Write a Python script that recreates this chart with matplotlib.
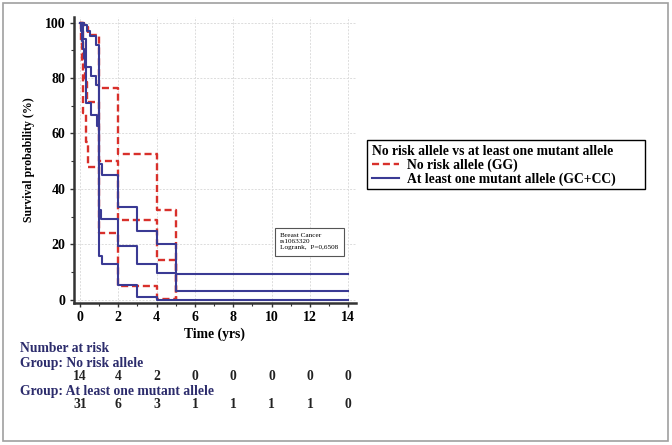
"""
Kaplan-Meier survival curves (with confidence bands) for rs1063320
genotype groups, plus the number-at-risk table underneath.
"""

import matplotlib
matplotlib.use("Agg")
import matplotlib.pyplot as plt
import matplotlib.transforms as mtransforms
from matplotlib.patches import Rectangle

# --- Group 1: No risk allele (GG) -- KM estimate and 95% CI bounds ---
no_risk_t = [0, 0.05, 0.1, 0.25, 0.35, 1.0, 2.0, 4.0, 5.0]
no_risk_s = [100, 92.9, 85.7, 78.6, 71.4, 50.0, 28.6, 14.3, 0]
no_risk_up_t = [0, 0.2, 0.4, 1.0, 2.0, 4.0, 5.0]
no_risk_up_s = [100, 98.5, 95.5, 76.5, 52.5, 32.5, 0]
no_risk_lo_t = [0, 0.15, 0.3, 0.4, 1.0, 2.0, 4.0, 5.0]
no_risk_lo_s = [100, 67.5, 57.0, 48.0, 24.0, 5.0, 0.3, 0.3]

# --- Group 2: At least one mutant allele (GC+CC) ---
mutant_t = [0, 0.05, 0.1, 0.15, 0.2, 0.25, 0.6, 0.85, 1.0, 1.1, 2.0, 3.0, 4.0, 5.0, 14.0]
mutant_s = [100, 96.8, 93.5, 90.3, 87.1, 83.9, 80.6, 77.4, 32.3, 29.0, 19.4, 12.9, 9.7, 3.2, 3.2]
mutant_up_t = [0, 0.2, 0.35, 0.5, 0.85, 1.0, 1.15, 2.0, 3.0, 4.0, 5.0, 14.0]
mutant_up_s = [100, 99, 97, 95, 92, 49, 45, 33.5, 24.7, 20.0, 9.4, 9.4]
mutant_lo_t = [0, 0.15, 0.3, 0.6, 0.9, 1.0, 1.15, 2.0, 3.0, 4.0, 14.0]
mutant_lo_s = [100, 94, 71, 66.6, 62.6, 15.7, 13.0, 5.2, 1.0, 0, 0]

# --- Number at risk ---
risk_times = [0, 2, 4, 6, 8, 10, 12, 14]
risk_no_risk = [14, 4, 2, 0, 0, 0, 0, 0]
risk_mutant = [31, 6, 3, 1, 1, 1, 1, 0]

RED = "#d8302b"
NAVY = "#3a3a94"
TEXT_NAVY = "#2c2c6c"
SERIF = ["Liberation Serif", "DejaVu Serif"]

W, H = 672, 445


def fx(px):
    return px / W


def fy(py):
    return 1 - py / H


fig = plt.figure(figsize=(W / 100, H / 100), dpi=100)
ax = fig.add_axes([fx(74), fy(303), fx(356) - fx(74), fy(17) - fy(303)])

# confidence bands and KM estimates
for t, s in [(no_risk_up_t, no_risk_up_s), (no_risk_t, no_risk_s), (no_risk_lo_t, no_risk_lo_s)]:
    ax.step(t, s, where="post", color=RED, lw=1.7, linestyle=(0, (3, 1.6)), zorder=3)
for t, s in [(mutant_up_t, mutant_up_s), (mutant_t, mutant_s), (mutant_lo_t, mutant_lo_s)]:
    ax.step(t, s, where="post", color=NAVY, lw=1.5, zorder=4)

ax.set_xlim(-0.31, 14.4)
ax.set_ylim(-1.2, 102)
ax.set_xticks(range(0, 15, 2))
ax.set_xticks(range(1, 15, 2), minor=True)
ax.set_yticks(range(0, 101, 20))
ax.set_yticks(range(10, 100, 20), minor=True)
ax.grid(True, which="major", color="#dcdcdc", lw=0.7, linestyle=(0, (2, 1.5)))

for side in ["top", "right"]:
    ax.spines[side].set_visible(False)
for side in ["left", "bottom"]:
    ax.spines[side].set_linewidth(1.8)
    ax.spines[side].set_color("#333333")
ax.tick_params(which="major", length=3, width=1, color="#333333", pad=3)
ax.tick_params(which="minor", length=2, width=0.8, color="#333333")
for lab in ax.get_xticklabels() + ax.get_yticklabels():
    lab.set_family(SERIF)
    lab.set_fontweight("bold")
    lab.set_fontsize(10)

ax.set_xlabel("Time (yrs)", family=SERIF, fontweight="bold", fontsize=9.8, labelpad=2)
ax.set_ylabel("Survival probability (%)", family=SERIF, fontweight="bold", fontsize=8.5, labelpad=7)

# small annotation box with the logrank result
ax.text(10.45, 20.9, "Breast Cancer\nrs1063320\nLogrank,  P=0,6508", family=SERIF,
        fontsize=5.2, va="center", ha="left", linespacing=1.25, zorder=6,
        bbox=dict(boxstyle="square,pad=0.75", facecolor="white", edgecolor="#555555", lw=0.8))

# legend (frame drawn separately: the original box is wider than its text)
h1, = ax.plot([], [], color=RED, lw=1.7, linestyle=(0, (3, 1.6)))
h2, = ax.plot([], [], color=NAVY, lw=1.5)
leg = fig.legend([h1, h2], ["No risk allele (GG)", "At least one mutant allele (GC+CC)"],
                 title="No risk allele vs at least one mutant allele",
                 loc="upper left", bbox_to_anchor=(fx(367), fy(140)),
                 prop=dict(family=SERIF, weight="bold", size=9.8),
                 title_fontproperties=dict(family=SERIF, weight="bold", size=9.8),
                 alignment="left", frameon=False,
                 handlelength=2.0, handletextpad=0.6, borderpad=0.35,
                 labelspacing=0.05, borderaxespad=0)
fig.patches.append(Rectangle((fx(367), fy(189)), fx(645) - fx(367), fy(140) - fy(189),
                             transform=fig.transFigure, fill=False, edgecolor="black", lw=1.0))

# number-at-risk table
blend = mtransforms.blended_transform_factory(ax.transData, fig.transFigure)
label_kw = dict(family=SERIF, fontweight="bold", fontsize=9.8, color=TEXT_NAVY, va="center", ha="left")
fig.text(fx(20), fy(348), "Number at risk", **label_kw)
fig.text(fx(20), fy(363), "Group: No risk allele", **label_kw)
fig.text(fx(20), fy(391), "Group: At least one mutant allele", **label_kw)
num_kw = dict(family=SERIF, fontweight="bold", fontsize=9.8, color="#222222", va="center", ha="center")
for t, n in zip(risk_times, risk_no_risk):
    ax.text(t, fy(376), str(n), transform=blend, **num_kw)
for t, n in zip(risk_times, risk_mutant):
    ax.text(t, fy(404), str(n), transform=blend, **num_kw)

# gray outer frame of the figure
fig.patches.append(Rectangle((fx(3), fy(441)), fx(665), fy(3) - fy(441), transform=fig.transFigure,
                             fill=False, edgecolor="#a0a0a0", lw=1.2))

fig.savefig("out.png", dpi=100)
